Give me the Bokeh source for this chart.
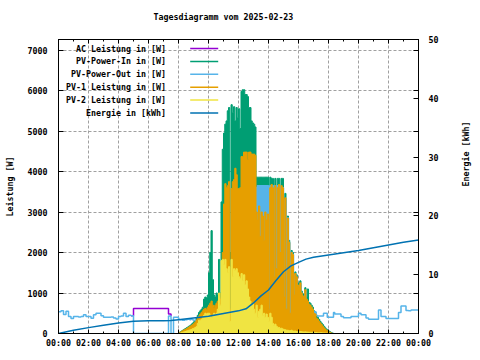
import math
from bokeh.plotting import figure
from bokeh.models import (Range1d, LinearAxis, FixedTicker, Label, Arrow,
                          CustomJSTickFormatter, CustomLabelingPolicy)
from bokeh.embed import file_html
from bokeh.resources import INLINE

# ---------------- data ----------------
title_text = "Tagesdiagramm vom 2025-02-23"
y_label = "Leistung [W]"
y2_label = "Energie [kWh]"
x_tick_hours = [0, 2, 4, 6, 8, 10, 12, 14, 16, 18, 20, 22, 24]
x_tick_labels = ["00:00", "02:00", "04:00", "06:00", "08:00", "10:00", "12:00",
                 "14:00", "16:00", "18:00", "20:00", "22:00", "00:00"]
y_ticks = [0, 1000, 2000, 3000, 4000, 5000, 6000, 7000]
y2_ticks = [0, 10, 20, 30, 40, 50]

# daytime series, 5-minute samples starting 08:00
day_start = "08:00"
green_day = [  # PV-Power-In [W]
    20, 40, 60, 80, 100, 120, 140, 160, 180, 200, 230, 260,
    290, 320, 380, 450, 520, 560, 600, 650, 850, 900, 880, 950,
    1500, 2000, 2540, 1330, 950, 900, 1000, 950, 1830, 1000, 3250, 4550,
    4950, 5170, 5250, 5500, 5580, 2000, 5650, 5450, 5600, 5250, 5580, 5330,
    5550, 5060, 5980, 6020, 6020, 5900, 5900, 5850, 5580, 5580, 5250, 5200,
    5170, 5100, 3860, 3860, 3860, 3860, 3860, 3860, 3860, 3860, 3860, 3860,
    700, 3860, 3830, 3830, 1570, 3830, 1800, 3830, 3830, 2190, 3830, 3830,
    980, 3460, 650, 2900, 2300, 600, 2050, 2000, 1000, 1520, 1450, 1230,
    1250, 1300, 1050, 980, 950, 1130, 900, 1100, 770, 750, 700, 650,
    560, 530, 420, 400, 350, 300, 260, 220, 180, 140, 110, 80,
    60, 40, 20, 10, 0, 0]
orange_day = [  # PV-1 Leistung [W]
    10, 30, 50, 70, 90, 100, 120, 140, 160, 180, 200, 220,
    250, 280, 330, 380, 430, 480, 520, 560, 600, 620, 600, 650,
    700, 750, 800, 700, 650, 700, 750, 800, 900, 850, 1000, 2000,
    3200, 3700, 3600, 3650, 3750, 600, 3580, 3750, 3800, 4080, 3920, 3580,
    3580, 3600, 4370, 4370, 4480, 4480, 4480, 4290, 4480, 4480, 4430, 4430,
    4430, 4400, 3000, 2800, 3150, 2400, 3000, 2900, 2300, 3000, 2800, 2950,
    600, 3600, 3680, 3600, 1400, 3650, 1600, 3600, 3680, 2000, 3650, 3600,
    900, 3350, 600, 2850, 2250, 500, 2000, 1950, 950, 1480, 1400, 1200,
    1150, 1250, 1000, 930, 900, 1080, 850, 800, 720, 700, 650, 600,
    500, 480, 375, 350, 300, 260, 220, 180, 140, 110, 80, 60,
    40, 25, 10, 0, 0, 0]
yellow_day = [  # PV-2 Leistung [W]
    0, 10, 20, 30, 40, 50, 60, 70, 80, 90, 100, 120,
    130, 150, 170, 250, 330, 330, 350, 400, 450, 500, 480, 500,
    500, 450, 400, 450, 500, 450, 500, 600, 1000, 700, 1800, 1830,
    1700, 1830, 1600, 1500, 1650, 300, 1830, 1400, 1600, 1550, 1600, 1500,
    1400, 1350, 1480, 1300, 1450, 1200, 1300, 1100, 900, 800, 700, 750,
    600, 500, 700, 400, 550, 600, 700, 450, 500, 400, 480, 400,
    300, 500, 400, 250, 200, 230, 180, 150, 150, 120, 130, 110,
    100, 90, 80, 80, 70, 70, 80, 60, 60, 60, 50, 50,
    50, 50, 45, 40, 40, 40, 35, 35, 30, 30, 30, 30,
    30, 25, 25, 20, 20, 20, 20, 15, 15, 10, 10, 10,
    5, 5, 0, 0, 0, 0]
out_day = [  # PV-Power-Out [W]
    350, 340, 340, 330, 330, 340, 340, 350, 350, 340, 350, 340,
    330, 330, 300, 250, 250, 300, 330, 370, 400, 420, 400, 410,
    420, 450, 470, 450, 480, 500, 480, 450, 470, 500, 480, 480,
    500, 480, 460, 480, 500, 450, 480, 500, 450, 480, 470, 450,
    450, 350, 450, 480, 470, 500, 520, 500, 480, 2000, 2000, 1900,
    2000, 3600, 3600, 3650, 3650, 3650, 3650, 3650, 3650, 3650, 3650, 3650,
    500, 3650, 3650, 3650, 1500, 3650, 1700, 3650, 3650, 2100, 3600, 3600,
    950, 3300, 620, 2850, 2250, 550, 2000, 1950, 950, 1450, 1350, 1150,
    1100, 1200, 950, 900, 850, 1050, 800, 750, 680, 650, 600, 550,
    480, 540, 450, 430, 430, 430, 430, 430, 500, 500, 500, 400,
    400, 400, 400, 400, 520, 480]
out_fill_from = "12:00"
out_fill_to = "16:30"

# PV-Power-Out at night, 10-minute samples
out_night_start = "00:00"
out_night = [540, 560, 470, 550, 420, 370,
             420, 420, 410, 420, 460, 420,
             420, 375, 460, 500, 500, 440,
             400, 400, 400, 410, 380, 360,
             420, 430, 500, 420, 450, 440,
             0, 0, 0, 0, 0, 0,
             0, 0, 0, 0, 0, 0,
             0, 0, 430, 0, 400, 400]
out_eve_start = "18:30"
out_eve = [480, 480, 420,
           390, 390, 390, 420, 420, 420,
           500, 460, 460, 380, 350, 350,
           350, 350, 580, 420, 420, 370,
           370, 370, 370, 370, 520, 680,
           680, 570, 560, 580, 580, 580,
           580]

# AC Leistung (visible part)
ac_t = ["04:50", "05:00", "07:20", "07:30"]
ac_v = [440, 620, 480, 430]

# Energie [kWh]
energy_t = ["00:00", "01:00", "02:00", "03:00", "04:00", "05:00", "06:00", "07:00",
            "07:30", "08:00", "09:00", "10:00", "11:00", "12:00", "12:30", "13:00",
            "13:30", "14:00", "14:30", "15:00", "15:30", "16:00", "16:30", "17:00",
            "18:00", "19:00", "20:00", "21:00", "22:00", "23:00", "24:00"]
energy_v = [0.0, 0.55, 1.0, 1.4, 1.8, 2.1, 2.15, 2.15,
            2.2, 2.35, 2.65, 2.95, 3.4, 3.85, 4.2, 5.2,
            6.4, 7.4, 9.0, 10.5, 11.5, 12.1, 12.65, 12.95,
            13.35, 13.75, 14.1, 14.6, 15.05, 15.5, 15.9]

legend_labels = ["AC Leistung in [W]", "PV-Power-In in [W]", "PV-Power-Out in [W]",
                 "PV-1 Leistung in [W]", "PV-2 Leistung in [W]", "Energie in [kWh]"]
C_AC, C_IN, C_OUT, C_PV1, C_PV2, C_E = ("#9400d3", "#009e73", "#56b4e9",
                                        "#e69f00", "#f0e442", "#0072b2")
legend_colors = [C_AC, C_IN, C_OUT, C_PV1, C_PV2, C_E]

# ---------------- helpers ----------------
def hm(s):
    h, m = s.split(":")
    return int(h) + int(m) / 60.0

def times(start, n, step_min):
    t0 = hm(start)
    return [t0 + i * step_min / 60.0 for i in range(n)]

day_t = times(day_start, len(green_day), 5)
night_t = times(out_night_start, len(out_night), 10)
eve_t = times(out_eve_start, len(out_eve), 10)
out_t = night_t + day_t + eve_t
out_v = out_night + out_day + out_eve

Y_MAX = 7260
FONT = "DejaVu Sans Mono"
FS = "8.3px"

p = figure(frame_width=360, frame_height=294, width=478, height=358,
           min_border_left=58, min_border_right=60, min_border_top=39,
           min_border_bottom=25,
           x_range=Range1d(0, 24), y_range=Range1d(0, Y_MAX),
           output_backend="svg", toolbar_location=None,
           background_fill_color="white", border_fill_color="white",
           outline_line_color="black")
p.extra_y_ranges = {"e": Range1d(0, 50)}

p.title.text = title_text
p.title.align = "left"
p.title.offset = 95
p.title.standoff = 16
p.title.text_font = FONT
p.title.text_font_size = FS
p.title.text_font_style = "bold"
p.title.text_color = "black"

# axes
def style_axis(ax):
    ax.axis_line_color = "black"
    ax.major_tick_line_color = "black"
    ax.minor_tick_line_color = "black"
    ax.major_tick_out = 0
    ax.minor_tick_out = 0
    ax.major_label_text_font = FONT
    ax.major_label_text_font_size = FS
    ax.major_label_text_font_style = "bold"
    ax.major_label_text_color = "black"
    ax.axis_label_text_font = FONT
    ax.axis_label_text_font_size = FS
    ax.axis_label_text_font_style = "bold"
    ax.axis_label_text_color = "black"

xa = p.xaxis[0]
xa.ticker = FixedTicker(ticks=x_tick_hours, minor_ticks=list(range(25)))
xa.major_label_overrides = {h: lab for h, lab in zip(x_tick_hours, x_tick_labels)}
style_axis(xa)
xa.major_tick_in = 4
xa.minor_tick_in = 2
xa.major_label_standoff = 4

ya = p.yaxis[0]
ya.ticker = FixedTicker(ticks=y_ticks, minor_ticks=[])
style_axis(ya)
ya.major_tick_in = 5
ya.minor_tick_in = 0
ya.major_label_standoff = 11
ya.axis_label = y_label
ya.axis_label_standoff = 10

top = LinearAxis(ticker=FixedTicker(ticks=x_tick_hours, minor_ticks=list(range(25))),
                 major_label_policy=CustomLabelingPolicy(code="return [];"))
style_axis(top)
top.major_tick_in = 4
top.minor_tick_in = 2
top.major_label_standoff = 0
p.add_layout(top, "above")

mirror = [t * 50.0 / Y_MAX for t in y_ticks[1:]]
n_lab = len(y2_ticks)
y2 = LinearAxis(y_range_name="e",
                ticker=FixedTicker(ticks=y2_ticks + mirror, minor_ticks=[]),
                formatter=CustomJSTickFormatter(code="""
                    const r = Math.round(tick / 10) * 10;
                    return Math.abs(tick - r) < 1e-6 ? r.toFixed(0) : '';"""),
                major_label_policy=CustomLabelingPolicy(
                    code="const out = []; for (const i of indices) { if (i < %d) out.push(i); } return out;" % n_lab))
style_axis(y2)
y2.major_tick_in = 5
y2.minor_tick_in = 0
y2.major_label_standoff = 10
y2.axis_label = y2_label
y2.axis_label_standoff = 25
try:
    y2.axis_label_orientation = math.pi / 2
except Exception:
    pass
p.add_layout(y2, "right")

# grid
p.xgrid.ticker = FixedTicker(ticks=x_tick_hours[1:-1])
p.ygrid.ticker = FixedTicker(ticks=y_ticks[1:])
for g in (p.xgrid[0], p.ygrid[0]):
    g.grid_line_color = "#a0a0a0"
    g.grid_line_dash = "3 2"
    g.grid_line_width = 1

# series
ac_x = [hm(t) for t in ac_t]
p.step(ac_x, ac_v, mode="after", line_color=C_AC, line_width=1.5)

p.varea_step(x=day_t, y1=[0] * len(day_t), y2=green_day, step_mode="after",
             fill_color=C_IN)
p.step(day_t, green_day, mode="after", line_color=C_IN, line_width=1)

i0 = day_t.index(hm(out_fill_from))
i1 = day_t.index(hm(out_fill_to))
p.varea_step(x=day_t[i0:i1], y1=[0] * (i1 - i0), y2=out_day[i0:i1],
             step_mode="after", fill_color=C_OUT)
p.step(out_t, out_v, mode="after", line_color=C_OUT, line_width=1.5)

p.varea_step(x=day_t, y1=[0] * len(day_t), y2=orange_day, step_mode="after",
             fill_color=C_PV1)
p.step(day_t, orange_day, mode="after", line_color=C_PV1, line_width=1)

p.varea_step(x=day_t, y1=[0] * len(day_t), y2=yellow_day, step_mode="after",
             fill_color=C_PV2)
p.step(day_t, yellow_day, mode="after", line_color=C_PV2, line_width=1)

p.line([hm(t) for t in energy_t], energy_v, y_range_name="e",
       line_color=C_E, line_width=1.5)

# legend (screen units relative to the plot frame)
def txt(x, y, s, align="center"):
    p.add_layout(Label(x=x, y=y, x_units="screen", y_units="screen", text=s,
                       text_font=FONT, text_font_size=FS, text_font_style="bold",
                       text_color="black", text_align=align,
                       text_baseline="middle"))

for i, (lab, col) in enumerate(zip(legend_labels, legend_colors)):
    yy = 285.0 - i * 12.9
    txt(107.4, yy, lab, align="right")
    p.add_layout(Arrow(end=None, x_start=131.7, y_start=yy, x_end=159.7, y_end=yy,
                       start_units="screen", end_units="screen",
                       line_color=col, line_width=1.5))

open("out.html", "w").write(file_html(p, INLINE))
